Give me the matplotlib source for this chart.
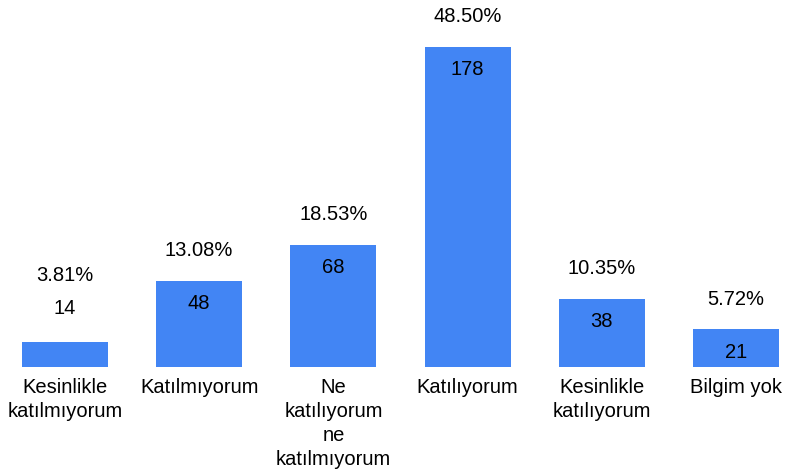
import numpy as np
import matplotlib.pyplot as plt

plt.rcParams["font.family"] = ["Liberation Sans", "DejaVu Sans"]

categories = [
    "Kesinlikle\nkatılmıyorum",
    "Katılmıyorum",
    "Ne\nkatılıyorum\nne\nkatılmıyorum",
    "Katılıyorum",
    "Kesinlikle\nkatılıyorum",
    "Bilgim yok",
]
counts = [14, 48, 68, 178, 38, 21]
percents = ["3.81%", "13.08%", "18.53%", "48.50%", "10.35%", "5.72%"]

fig = plt.figure(figsize=(7.85, 4.76), dpi=100)
ax = fig.add_axes([0, 109 / 476, 1, 367 / 476])

x = np.arange(len(categories))
ax.bar(x, counts, width=0.64, color="#4285F4")

ax.set_xlim(-0.484, 5.365)
ax.set_ylim(0, 204)
ax.axis("off")

fs = 14.5
px = 204 / 367  # data units per pixel
for i, (c, p) in enumerate(zip(counts, percents)):
    if c / px > 30:
        ax.text(i, c - 23 * px, str(c), ha="center", va="center", fontsize=fs)
        ax.text(i, c + 30 * px, p, ha="center", va="center", fontsize=fs)
    else:
        ax.text(i, c + 33 * px, str(c), ha="center", va="center", fontsize=fs)
        ax.text(i, c + 66 * px, p, ha="center", va="center", fontsize=fs)
    ax.text(i, -11 * px, categories[i], ha="center", va="top", fontsize=fs,
            linespacing=1.33, clip_on=False)

fig.savefig("out.png", dpi=100)
